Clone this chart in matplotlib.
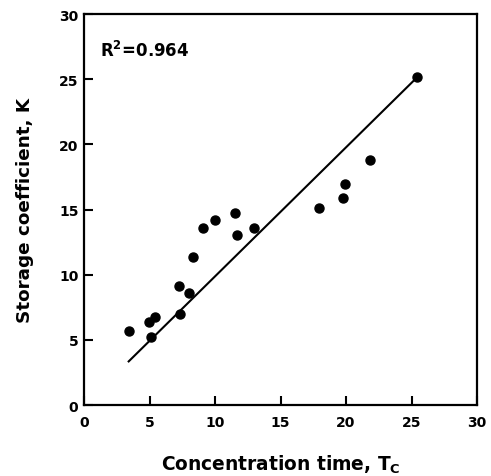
import matplotlib
matplotlib.use("Agg")
import matplotlib.pyplot as plt
import numpy as np

# data
tc = [3.46, 4.94, 5.39, 5.14, 7.23, 7.33, 7.99, 8.35, 9.06, 9.97,
      11.5, 11.65, 13.0, 17.96, 19.77, 19.95, 21.83, 25.42]
k = [5.68, 6.39, 6.78, 5.22, 9.11, 6.98, 8.6, 11.33, 13.58, 14.17,
     14.71, 13.07, 13.58, 15.09, 15.86, 16.99, 18.8, 25.17]

# regression line
fit_slope = 0.99
fit_intercept = -0.03
fit_range = [3.41, 25.22]
r2_text = "R$^2$=0.964"

plt.rcParams['font.family'] = 'DejaVu Sans'
plt.rcParams['font.weight'] = 'bold'
plt.rcParams['mathtext.fontset'] = 'custom'
plt.rcParams['mathtext.rm'] = 'DejaVu Sans:bold'
plt.rcParams['mathtext.it'] = 'DejaVu Sans:bold'
plt.rcParams['mathtext.bf'] = 'DejaVu Sans:bold'
plt.rcParams['mathtext.default'] = 'rm'

fig = plt.figure(figsize=(4.91, 4.77), dpi=100)
ax = fig.add_axes([0.1711, 0.1488, 0.8004, 0.8197])

xs = np.array(fit_range)
ax.plot(xs, fit_slope * xs + fit_intercept, color='black', lw=1.5)
ax.plot(tc, k, 'o', color='black', markersize=6.5)

ax.set_xlim(0, 30)
ax.set_ylim(0, 30)
ax.set_xticks(range(0, 31, 5))
ax.set_yticks(range(0, 31, 5))
ax.tick_params(direction='in', length=6.5, width=1.5, labelsize=10)
ax.tick_params(axis='x', pad=7)
ax.tick_params(axis='y', pad=4)
for sp in ax.spines.values():
    sp.set_linewidth(1.6)

ax.set_xlabel('Concentration time, T$_C$', fontsize=13.4, fontweight='bold', labelpad=17)
ax.set_ylabel('Storage coefficient, K', fontsize=13.2, fontweight='bold', labelpad=18)
ax.text(1.2, 26.8, r2_text, fontsize=12, fontweight='bold')

fig.savefig('out.png', dpi=100)
